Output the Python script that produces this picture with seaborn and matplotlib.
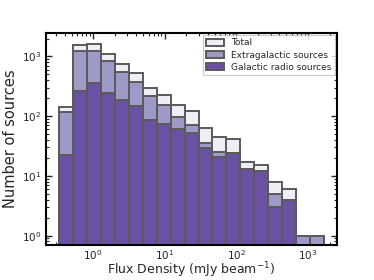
import matplotlib
matplotlib.use("Agg")
import matplotlib.pyplot as plt
from matplotlib.patches import Patch
import numpy as np
import pandas as pd
import seaborn as sns

# bin edges (mJy/beam), log spaced
edges = np.logspace(-0.47, 3.22, 20)
centers = np.sqrt(edges[:-1] * edges[1:])

total = [144, 1530, 1620, 1110, 740, 520, 300, 230, 157, 122, 64, 45, 41, 17, 15, 8, 6, 1, 1]
extragal = [119, 1250, 1240, 850, 553, 370, 215, 153, 97, 70, 36, 25, 24, 13, 12, 5, 4, 1, 1]
galactic = [22, 260, 365, 247, 185, 150, 86, 74, 60, 52, 29, 21, 24, 13, 12, 3, 4, 0, 0]

labels = ["Total", "Extragalactic sources", "Galactic radio sources"]
colors = ["#efedf5", "#9e9ac8", "#6a51a3"]
edge_col = "#5a5a5a"

sns.set_style("ticks")
fig = plt.figure(figsize=(3.74, 2.8), dpi=100)
ax = fig.add_axes([0.123, 0.124, 0.778, 0.758])

for counts, col in zip([total, extragal, galactic], colors):
    df = pd.DataFrame({"flux": centers, "n": np.array(counts, dtype=float)})
    sns.histplot(data=df, x="flux", weights="n", bins=edges.tolist(), ax=ax,
                 color=col, edgecolor=edge_col, linewidth=1.4, alpha=1)

ax.set_xscale("log")
ax.set_yscale("log")
ax.set_xlim(0.22, 2540)
ax.set_ylim(0.69, 2470)

ax.set_xlabel("Flux Density (mJy beam$^{-1}$)", fontsize=9, labelpad=-1)
ax.set_ylabel("Number of sources", fontsize=10.5, labelpad=3)

ax.tick_params(which="both", direction="in", top=True, right=True, labelsize=7.5)
ax.tick_params(which="major", length=4, width=1)
ax.tick_params(which="minor", length=2, width=0.8)
ax.tick_params(axis="x", pad=2)
for sp in ax.spines.values():
    sp.set_linewidth(1.5)
    sp.set_color("black")

handles = [Patch(facecolor=c, edgecolor=edge_col, linewidth=1.4) for c in colors]
leg = ax.legend(handles, labels, loc="upper right", fontsize=6.5, frameon=True,
                fancybox=False, borderpad=0.35, labelspacing=0.35,
                handlelength=2.0, handleheight=0.8, borderaxespad=0.25)
leg.get_frame().set_edgecolor("#bbbbbb")
leg.get_frame().set_linewidth(0.8)

fig.savefig("out.png", dpi=100)
